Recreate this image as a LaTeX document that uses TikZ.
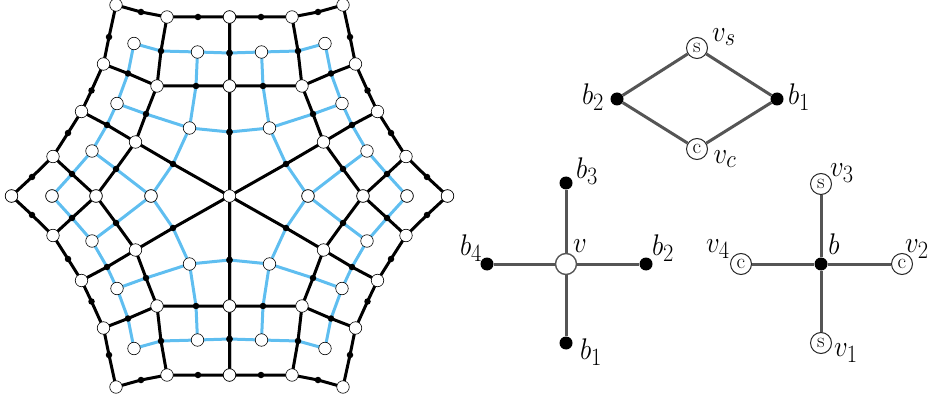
\documentclass[tikz,border=0pt]{standalone}
\usepackage{graphicx}
\definecolor{meshblue}{RGB}{95,190,240}
\definecolor{edgegray}{RGB}{85,85,85}
\newcommand{\lbltext}[1]{\scalebox{1.08}[1.2]{$#1$}}
\begin{document}
\begin{tikzpicture}[x=1pt,y=-1pt,
  blk/.style={line width=3pt, black, line join=round},
  blu/.style={line width=3pt, meshblue, line join=round},
  wv/.style={circle, draw=black, line width=0.6pt, fill=white, minimum size=12.5pt, inner sep=0pt},
  dt/.style={circle, fill=black, minimum size=6.5pt, inner sep=0pt},
  ge/.style={line width=3pt, edgegray},
  bd/.style={circle, fill=black, minimum size=13pt, inner sep=0pt},
  wn/.style={circle, draw=edgegray, line width=1.4pt, fill=white, minimum size=21pt, inner sep=0pt},
  ln/.style={circle, draw=black!85, line width=1pt, fill=white, minimum size=21pt, inner sep=0pt, font=\fontsize{21}{21}\selectfont},
  lab/.style={inner sep=0pt, font=\fontsize{24.88}{30}\selectfont}
]
\useasboundingbox (0,0) rectangle (929,398);

% ---------- mesh coordinates (four mirrored quadrants) ----------
\coordinate (C) at (229.5,196);
\foreach \sx/\sy/\q in {-1/-1/a, 1/-1/b, -1/1/c, 1/1/d} {
  \foreach \n/\x/\y in {A/0/110, T/0/179, N/62.5/179, K/113.5/191, M/72.5/110,
      P/126/132, B/94/54, Q/148/84.5, R/176.5/39.5, L/218/0, S/133.5/0,
      F1/40/68, F2/32/144, F3/95.5/152.5, F4/112.5/92.5, F5/78.5/0, F6/137.5/45, F7/177.5/0,
      dCA/0/64, dAT/0/143, dTN/31.5/179, dNK/88.5/184, dAM/33.5/110, dMN/68.5/145,
      dMP/101.5/122.5, dPK/120.5/159, dCB/56.5/32, dBM/83.5/82, dBQ/122.5/71,
      dQP/138/105.5, dQR/161.5/63, dRL/197.5/19, dBS/113.5/27, dSR/157.5/22} {
    \coordinate (\n\q) at ({\sx*\x+229.5},{\sy*\y+196});
  }
}

% ---------- blue dual lines ----------
\foreach \q in {a,b,c,d} {
  \draw[blu] (F1\q) -- (dCA\q);
  \draw[blu] (F2\q) -- (dAT\q);
  \draw[blu] (F1\q) -- (dAM\q) -- (F2\q) -- (dMN\q) -- (F3\q) -- (dMP\q) -- (F4\q) -- (dBM\q) -- cycle;
  \draw[blu] (F1\q) -- (dCB\q) -- (F5\q) -- (dBS\q) -- (F6\q) -- (dBQ\q) -- (F4\q);
  \draw[blu] (F6\q) -- (dSR\q) -- (F7\q);
}

% ---------- black mesh lines ----------
\foreach \q in {a,b,c,d} {
  \draw[blk] (C) -- (dCA\q) -- (A\q) -- (dAT\q) -- (T\q) -- (dTN\q) -- (N\q) -- (dNK\q) -- (K\q)
     -- (dPK\q) -- (P\q) -- (dQP\q) -- (Q\q) -- (dQR\q) -- (R\q) -- (dRL\q) -- (L\q);
  \draw[blk] (A\q) -- (dAM\q) -- (M\q) -- (dMN\q) -- (N\q);
  \draw[blk] (M\q) -- (dMP\q) -- (P\q);
  \draw[blk] (C) -- (dCB\q) -- (B\q) -- (dBQ\q) -- (Q\q);
  \draw[blk] (B\q) -- (dBM\q) -- (M\q);
  \draw[blk] (B\q) -- (dBS\q) -- (S\q) -- (dSR\q) -- (R\q);
}

% ---------- mesh nodes ----------
\node[wv] (nC) at (C) {};
\foreach \q in {a,b,c,d} {
  \foreach \n in {A,T,N,K,M,P,B,Q,R,L,S,F1,F2,F3,F4,F5,F6,F7} {
    \node[wv] (n\n\q) at (\n\q) {};
  }
  \foreach \n in {dCA,dAT,dTN,dNK,dAM,dMN,dMP,dPK,dCB,dBM,dBQ,dQP,dQR,dRL,dBS,dSR} {
    \node[dt] (n\n\q) at (\n\q) {};
  }
}

% ---------- diamond ----------
\node[ln] (vs) at (697,48) {s};
\node[bd] (db2) at (617,99) {};
\node[bd] (db1) at (777,99) {};
\node[ln] (vc) at (697,149) {c};
\draw[ge] (db2) -- (vs) -- (db1) -- (vc) -- (db2);
\node[lab] (lvs) at (724,37) {\lbltext{v_s}};
\node[lab] (lb2d) at (593,97) {\lbltext{b_2}};
\node[lab] (lb1d) at (799,97) {\lbltext{b_1}};
\node[lab] (lvc) at (725,159) {\lbltext{v_c}};

% ---------- star around v ----------
\node[wn] (v) at (566,264) {};
\node[bd] (sb3) at (566,183) {};
\node[bd] (sb4) at (487,264) {};
\node[bd] (sb2) at (646,264) {};
\node[bd] (sb1) at (566,343) {};
\draw[ge] (v) -- (sb3) (v) -- (sb4) (v) -- (sb2) (v) -- (sb1);
\node[lab] (lb3) at (587,171) {\lbltext{b_3}};
\node[lab] (lv) at (580,246) {\lbltext{v}};
\node[lab] (lb2) at (663,248) {\lbltext{b_2}};
\node[lab] (lb4) at (471,248) {\lbltext{b_4}};
\node[lab] (lb1) at (591,352) {\lbltext{b_1}};

% ---------- star around b ----------
\node[bd] (b) at (821,264) {};
\node[ln] (v3) at (821,184) {s};
\node[ln] (v4) at (741,264) {c};
\node[ln] (v2) at (902,264) {c};
\node[ln] (v1) at (821,343) {s};
\draw[ge] (b) -- (v3) (b) -- (v4) (b) -- (v2) (b) -- (v1);
\node[lab] (lv3) at (842,173) {\lbltext{v_3}};
\node[lab] (lb) at (834,244) {\lbltext{b}};
\node[lab] (lv2) at (917,249) {\lbltext{v_2}};
\node[lab] (lv4) at (718,249) {\lbltext{v_4}};
\node[lab] (lv1) at (846,353) {\lbltext{v_1}};
\end{tikzpicture}
\end{document}
